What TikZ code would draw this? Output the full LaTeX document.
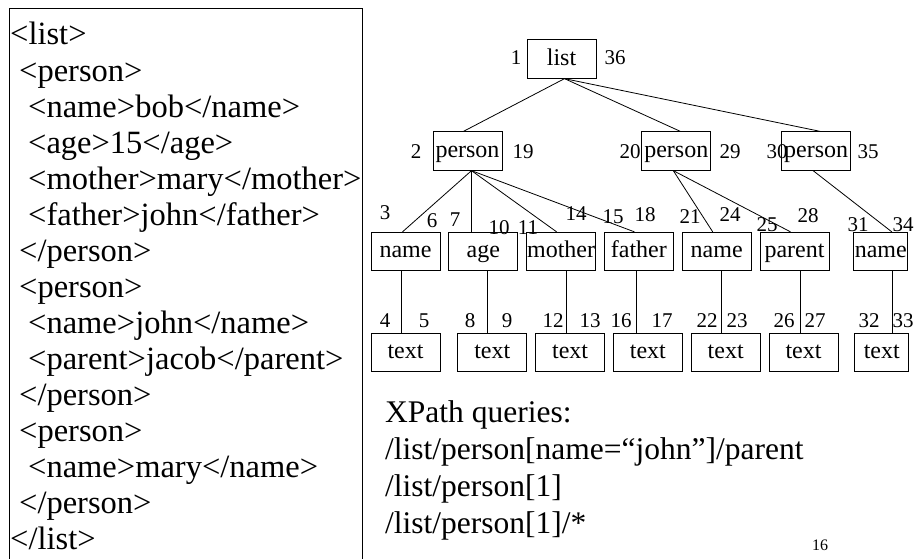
\documentclass[tikz,border=0pt]{standalone}
\usepackage{fontspec}
\setmainfont{Liberation Serif}
\usetikzlibrary{positioning}

\begin{document}
\begin{tikzpicture}[x=1pt,y=-1pt,
  code/.style={anchor=base west,inner sep=0pt,font=\fontsize{32.5}{36}\selectfont},
  query/.style={anchor=base west,inner sep=0pt,font=\fontsize{31.5}{36}\selectfont},
  tag/.style={draw,rectangle,minimum width=69pt,minimum height=38.5pt,inner sep=0pt,
    text height=17pt,text depth=4.5pt,line width=0.8pt,font=\fontsize{24}{28}\selectfont},
  num/.style={inner sep=0pt,font=\fontsize{21}{25}\selectfont},
  edge/.style={line width=0.8pt},
  node distance=8pt
]
\useasboundingbox (0,0) rectangle (924,559);
% xml source
\draw[edge] (9,560) -- (9,8) -- (362,8) -- (362,560);
\foreach \ind/\t [count=\i] in {0/{<list>},1/{<person>},2/{<name>bob</name>},
  2/{<age>15</age>},2/{<mother>mary</mother>},2/{<father>john</father>},
  1/{</person>},1/{<person>},2/{<name>john</name>},2/{<parent>jacob</parent>},
  1/{</person>},1/{<person>},2/{<name>mary</name>},1/{</person>},0/{</list>}}
  \node[code] (l\i) at ({10+9*\ind},{45+36.07*(\i-1)}) {\t};
% tree
\node[tag] (lst) at (561.5,59) {list};
\node[tag] (p1) at (467.5,151) {person};
\node[tag,right=139pt of p1] (p2) {person};
\node[tag,right=70pt of p2] (p3) {person};
\node[tag] (nm1) at (405.5,251.5) {name};
\node[tag,right=of nm1] (age) {age};
\node[tag,right=of age] (mot) {mother};
\node[tag,right=of mot] (fat) {father};
\node[tag,right=of fat] (nm2) {name};
\node[tag,right=of nm2] (par) {parent};
\node[tag,right=24pt of par,minimum width=54pt] (nm3) {name};
\node[tag] (t1) at (405.5,352.5) {text};
\node[tag,right=17pt of t1] (t2) {text};
\node[tag,right=of t2] (t3) {text};
\node[tag,right=of t3] (t4) {text};
\node[tag,right=of t4] (t5) {text};
\node[tag,right=of t5] (t6) {text};
\node[tag,right=16pt of t6,minimum width=54pt] (t7) {text};
\draw[edge] ([xshift=3pt]lst.south) -- ([xshift=-4pt]p1.north);
\draw[edge] ([xshift=3pt]lst.south) -- ([xshift=4pt]p2.north);
\draw[edge] ([xshift=3pt]lst.south) -- ([xshift=4pt]p3.north);
\draw[edge] ([xshift=4pt]p1.south) -- ([xshift=-3pt]nm1.north);
\draw[edge] ([xshift=4pt]p1.south) -- ([xshift=4pt]p1.south |- age.north);
\draw[edge] ([xshift=4pt]p1.south) -- ([xshift=-4.5pt]mot.north);
\draw[edge] ([xshift=4pt]p1.south) -- ([xshift=-4.5pt]fat.north);
\draw[edge] ([xshift=-3pt]p2.south) -- ([xshift=-4pt]nm2.north);
\draw[edge] ([xshift=-3pt]p2.south) -- ([xshift=-4pt]par.north);
\draw[edge] ([xshift=-3pt]p3.south) -- ([xshift=11pt]nm3.north);
\draw[edge] ([xshift=-4pt]t1.north) -- ([xshift=-4pt]t1.north |- nm1.south);
\draw[edge] ([xshift=-5pt]t2.north) -- ([xshift=-5pt]t2.north |- age.south);
\draw[edge] ([xshift=-3.5pt]t3.north) -- ([xshift=-3.5pt]t3.north |- mot.south);
\draw[edge] ([xshift=-12pt]t4.north) -- ([xshift=-12pt]t4.north |- fat.south);
\draw[edge] ([xshift=-4pt]t5.north) -- ([xshift=-4pt]t5.north |- nm2.south);
\draw[edge] ([xshift=-3.5pt]t6.north) -- ([xshift=-3.5pt]t6.north |- par.south);
\draw[edge] ([xshift=11pt]t7.north) -- ([xshift=11pt]t7.north |- nm3.south);
% numbering
\foreach \x/\y/\t in {516/58/1,615/58/36,416/152/2,523/152/19,630/152/20,730/152/29,
  777/152/30,868/152/35,385/213/3,432/221/6,455/220/7,499/228/10,528/228/11,
  576/214/14,613/217/15,645/215/18,690/217/21,730/215/24,767/225/25,808/216/28,
  858/225/31,903/225/34,385/321/4,424/321/5,470/321/8,507/321/9,553/321/12,
  590/321/13,621/321/16,662/321/17,707/321/22,737/321/23,784/321/26,815/321/27,
  869/321/32,903/321/33}
  \node[num] (c\t) at (\x,\y) {\t};
% queries
\foreach \t [count=\i] in {XPath queries:,/list/person[name=“john”]/parent,
  /list/person[1],/list/person[1]/*}
  \node[query] (q\i) at (385,{422+37*(\i-1)}) {\t};
\node[inner sep=0pt,font=\fontsize{16}{19}\selectfont] (pg) at (820,545) {16};
\end{tikzpicture}
\end{document}
